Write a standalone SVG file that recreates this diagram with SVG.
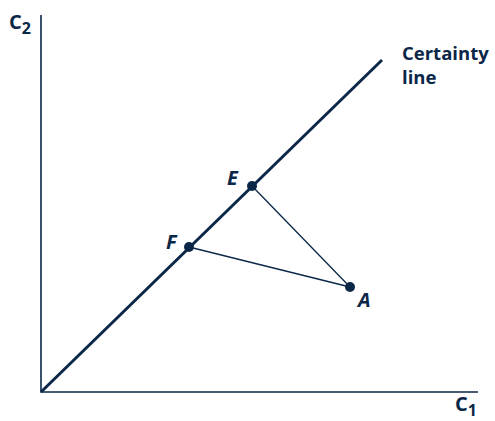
<svg xmlns="http://www.w3.org/2000/svg" width="495" height="421" viewBox="0 0 495 421">
<style>
.t{font-family:"Open Sans","Noto Sans",sans-serif;font-weight:bold;fill:#0b2748}
.pt{font-family:"Open Sans","Noto Sans",sans-serif;font-weight:bold;font-style:italic;fill:#0b2748;font-size:20px}
.ax{stroke:#0b2748;stroke-width:1.6;fill:none}
.cl{stroke:#0b2748;stroke-width:3;fill:none}
.th{stroke:#0b2748;stroke-width:1.3;fill:none}
.dot{fill:#0b2748}
</style>
<rect width="495" height="421" fill="#fff"/>
<g id="axes">
<path class="ax" d="M41,15 V392 H478"/>
<text class="t" x="9" y="29" font-size="20">C<tspan font-size="16" dy="5">2</tspan></text>
<text class="t" x="455" y="411" font-size="20">C<tspan font-size="16" dy="5">1</tspan></text>
</g>
<g id="certainty-line">
<line class="cl" x1="41" y1="392" x2="382" y2="60"/>
<text class="t" x="402" y="60" font-size="18.5">Certainty</text>
<text class="t" x="402" y="84" font-size="18.5">line</text>
</g>
<g id="connectors">
<line class="th" x1="252" y1="186" x2="350" y2="287"/>
<line class="th" x1="189" y1="247" x2="350" y2="287"/>
</g>
<g id="E"><circle class="dot" cx="252" cy="186" r="5"/><text class="pt" x="227" y="185">E</text></g>
<g id="F"><circle class="dot" cx="189" cy="247" r="5"/><text class="pt" x="166" y="249">F</text></g>
<g id="A"><circle class="dot" cx="350" cy="287" r="5"/><text class="pt" x="358" y="307">A</text></g>
</svg>
